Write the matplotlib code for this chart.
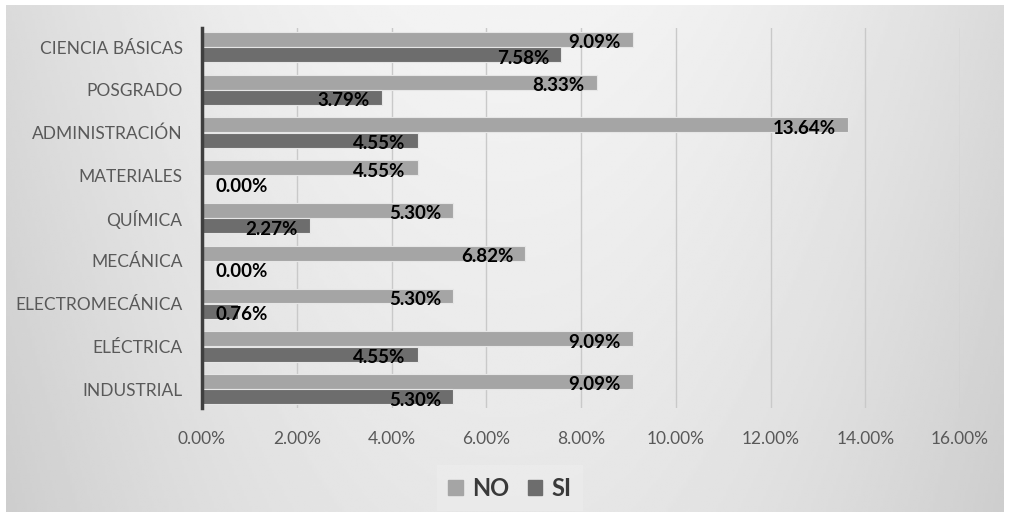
import matplotlib
matplotlib.use('Agg')
import matplotlib.pyplot as plt
import numpy as np
from matplotlib.patches import Patch

categories = ['CIENCIA BÁSICAS', 'POSGRADO', 'ADMINISTRACIÓN', 'MATERIALES', 'QUÍMICA',
              'MECÁNICA', 'ELECTROMECÁNICA', 'ELÉCTRICA', 'INDUSTRIAL']
no_values = [9.09, 8.33, 13.64, 4.55, 5.30, 6.82, 5.30, 9.09, 9.09]
si_values = [7.58, 3.79, 4.55, 0.00, 2.27, 0.00, 0.76, 4.55, 5.30]
series_names = ['NO', 'SI']
x_ticks = [0, 2, 4, 6, 8, 10, 12, 14, 16]
x_tick_labels = ['0.00%', '2.00%', '4.00%', '6.00%', '8.00%', '10.00%', '12.00%', '14.00%', '16.00%']

FONT = 'Lato'
c_no = '#a5a5a5'
c_si = '#6d6d6d'

fig = plt.figure(figsize=(10.1, 5.17), dpi=100)
fig.patch.set_facecolor('white')

# gradient background
bg = fig.add_axes([0.006, 0.01, 0.988, 0.98])
xx, yy = np.meshgrid(np.linspace(-1, 1, 400), np.linspace(0, 1, 200))
val = 0.955 - 0.10 * xx**2 - 0.05 * yy
bg.imshow(val, cmap='gray', vmin=0, vmax=1, aspect='auto', extent=[0, 1, 0, 1], origin='upper')
bg.set_axis_off()
bg.set_zorder(0)

ax = fig.add_axes([0.2, 0.21, 0.7505, 0.736])
ax.set_zorder(1)
ax.patch.set_alpha(0)

y = np.arange(len(categories))
h = 0.35
off = 0.18
ax.barh(y - off, no_values, height=h, color=c_no, edgecolor='#e6e6e6', linewidth=0.8, zorder=3)
ax.barh(y + off, si_values, height=h, color=c_si, edgecolor='#e6e6e6', linewidth=0.8, zorder=3)

def label(v, yy):
    txt = f'{v:.2f}%'
    if v < 1.5:
        ax.annotate(txt, (0, yy), xytext=(9.5, -2.4), textcoords='offset points',
                    ha='left', va='center', fontsize=13.5, fontweight='bold',
                    family=FONT, color='black', zorder=5)
    else:
        ax.annotate(txt, (v, yy), xytext=(-8.6, -2.4), textcoords='offset points',
                    ha='right', va='center', fontsize=13.5, fontweight='bold',
                    family=FONT, color='black', zorder=5)

for i in range(len(categories)):
    label(no_values[i], y[i] - off)
    label(si_values[i], y[i] + off)

ax.set_xlim(0, 16)
ax.set_ylim(8.45, -0.45)
ax.set_xticks(x_ticks)
ax.set_xticklabels(x_tick_labels)
ax.set_yticks(y)
ax.set_yticklabels(categories)
ax.grid(axis='x', color='#c9c9c9', linewidth=1, zorder=0)
ax.set_axisbelow(True)
for s in ['top', 'right', 'bottom']:
    ax.spines[s].set_visible(False)
ax.spines['left'].set_color('#3f3f3f')
ax.spines['left'].set_linewidth(2.5)
ax.spines['left'].set_zorder(4)
ax.tick_params(axis='both', length=0, labelcolor='#595959', labelsize=12.5)
ax.tick_params(axis='y', pad=14)
ax.tick_params(axis='x', pad=16)
for t in ax.get_xticklabels() + ax.get_yticklabels():
    t.set_family(FONT)

handles = [Patch(color=c_no, label=series_names[0]), Patch(color=c_si, label=series_names[1])]
leg = fig.legend(handles=handles, loc='center', bbox_to_anchor=(0.505, 0.056), ncol=2,
                 frameon=True, fancybox=False, handlelength=0.6, handleheight=0.6,
                 handletextpad=0.4, columnspacing=0.8, borderpad=0.5,
                 prop={'family': FONT, 'weight': 'bold', 'size': 17})
leg.get_frame().set_facecolor('#ececec')
leg.get_frame().set_edgecolor('none')
for t in leg.get_texts():
    t.set_color('#3a3a3a')

fig.savefig('out.png', dpi=100)
